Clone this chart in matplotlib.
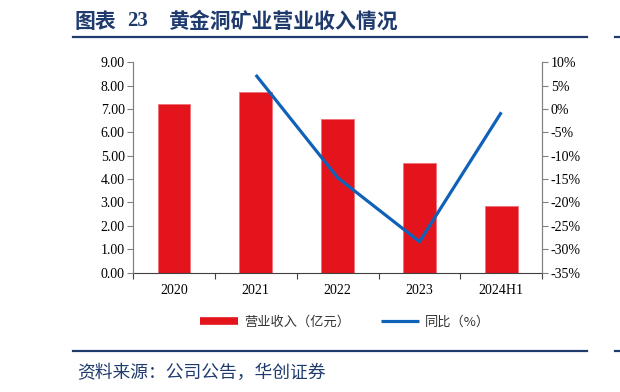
import matplotlib
matplotlib.use("Agg")
import matplotlib.pyplot as plt
from matplotlib.lines import Line2D
from matplotlib.ticker import FuncFormatter, MultipleLocator
import numpy as np

categories = ["2020", "2021", "2022", "2023", "2024H1"]
revenue = [7.20, 7.71, 6.57, 4.70, 2.85]
yoy_cats = ["2021", "2022", "2023", "2024H1"]
yoy = [7.3, -14.7, -28.4, -0.7]

title_text = "黄金洞矿业营业收入情况"
source_text = "资料来源：公司公告，华创证券"
legend_labels = ["营业收入（亿元）", "同比（%）"]

RED = "#E3141C"
BLUE = "#1062B8"
NAVY = "#1F3B6E"
GREY = "#808080"
CJK = ["Noto Sans CJK SC", "DejaVu Sans"]
SERIF = "Liberation Serif"

fig = plt.figure(figsize=(6.2, 3.92), dpi=100)
W, H = 620, 392
ax = fig.add_axes([133 / W, 1 - 272.5 / H, (542.3 - 133) / W, (272.5 - 62.3) / H])
ax2 = ax.twinx()

x = np.arange(len(categories))
ax.bar(x, revenue, width=0.4, color=RED, edgecolor="#F07078", linewidth=0.6, zorder=2)
ax.set_xlim(-0.5, len(categories) - 0.5)
ax.set_ylim(0, 9)
ax.yaxis.set_major_locator(MultipleLocator(1))
ax.yaxis.set_major_formatter(FuncFormatter(lambda v, p: f"{v:.2f}"))

xi = [categories.index(c) for c in yoy_cats]
ax2.plot(xi, yoy, color=BLUE, linewidth=2.3, solid_capstyle="butt", zorder=3)
ax2.set_ylim(-35, 10)
ax2.yaxis.set_major_locator(MultipleLocator(5))
ax2.yaxis.set_major_formatter(FuncFormatter(lambda v, p: f"{v:.0f}%".replace("\u2212", "-")))

# category ticks at boundaries
ax.set_xticks(np.arange(-0.5, len(categories), 1.0))
ax.set_xticklabels([])
ax.set_xticks(x, minor=True)
ax.set_xticklabels(categories, minor=True)
ax.tick_params(axis="x", which="major", direction="out", length=4, color="#404040", width=0.8)
ax.tick_params(axis="x", which="minor", length=0, pad=8, labelsize=10)
for lab in ax.get_xticklabels(minor=True):
    lab.set_fontfamily(SERIF)

ax.tick_params(axis="y", direction="out", length=4, color=GREY, width=0.8, labelsize=10, pad=2)
ax2.tick_params(axis="y", direction="out", length=4, color=GREY, width=0.8, labelsize=10, pad=2)
for lab in ax.get_yticklabels() + ax2.get_yticklabels():
    lab.set_fontfamily(SERIF)

for a in (ax, ax2):
    a.spines["top"].set_visible(False)
    a.spines["left"].set_color(GREY)
    a.spines["right"].set_color(GREY)
    a.spines["bottom"].set_color("#404040")
    a.spines["left"].set_linewidth(0.8)
    a.spines["right"].set_linewidth(0.8)
ax2.spines["bottom"].set_visible(False)

# legend
handles = [Line2D([0], [0], color=RED, linewidth=5.5, solid_capstyle="butt"),
           Line2D([0], [0], color=BLUE, linewidth=2.3, solid_capstyle="butt")]
leg = fig.legend(handles, legend_labels, loc="center", bbox_to_anchor=(345 / W, 1 - 322 / H),
                 ncol=2, frameon=False, handlelength=2.9, handletextpad=0.45,
                 columnspacing=2.3, prop={"family": CJK, "size": 9.5})
for t in leg.get_texts():
    t.set_color("#333333")

# title
fig.text(75 / W, 1 - 21 / H, "图表", family=CJK, fontsize=15, fontweight="bold",
         color=NAVY, va="center", ha="left")
fig.text(127 / W, 1 - 21 / H, "23", family=SERIF, fontsize=15, fontweight="bold",
         color=NAVY, va="center", ha="left")
fig.text(168 / W, 1 - 21 / H, title_text, family=CJK, fontsize=15, fontweight="bold",
         color=NAVY, va="center", ha="left")
fig.add_artist(Line2D([73 / W, 587 / W], [1 - 37 / H, 1 - 37 / H], color=NAVY, linewidth=1.6))
fig.add_artist(Line2D([615 / W, 1.0], [1 - 37 / H, 1 - 37 / H], color=NAVY, linewidth=1.6))

# source
fig.add_artist(Line2D([73 / W, 587 / W], [1 - 351 / H, 1 - 351 / H], color=NAVY, linewidth=1.6))
fig.add_artist(Line2D([615 / W, 1.0], [1 - 351 / H, 1 - 351 / H], color=NAVY, linewidth=1.6))
fig.text(77 / W, 1 - 373 / H, source_text, family=CJK, fontsize=12.8, style="italic",
         color=NAVY, va="center", ha="left")

fig.savefig("out.png", dpi=100)
